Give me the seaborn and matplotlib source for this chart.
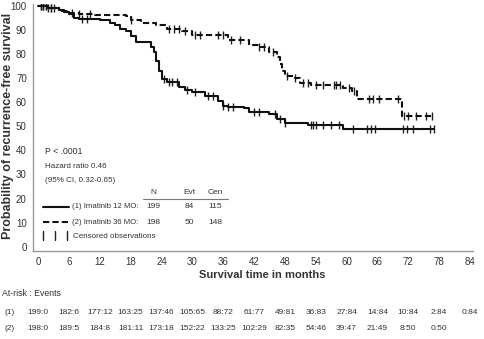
import numpy as np
import pandas as pd
import matplotlib
matplotlib.use("Agg")
import matplotlib.pyplot as plt
import matplotlib.transforms as mtransforms
import seaborn as sns

# ---------------- data ----------------
# Arm (1) Imatinib 12 MO: step curve (event times, survival %)
t12 = [0, 2, 4, 5, 6, 7, 8, 10, 12, 14, 15, 16, 17, 18, 19, 22, 22.5, 23, 23.5, 24, 25,
       27.5, 28.5, 30, 32.5, 35, 36, 37, 40, 41, 45, 46.5, 48, 52.5, 59.4, 77]
s12 = [100, 99, 98.5, 97.5, 96.5, 95, 94.6, 94.4, 94, 93, 92, 90.5, 89.5, 87.5, 85.2, 83, 80.7,
       77, 73, 69.5, 68.4, 66.4, 65, 64.3, 62.7, 60.5, 58.6, 58.2, 57.5, 56, 55, 53, 51.6, 50.4,
       48.8, 48.8]
c12 = [0.5, 1, 1.5, 2, 2.5, 8.5, 9.5, 24.5, 25.5, 26, 27, 29, 30.5, 33, 34, 36, 37, 38, 42, 43,
       46, 47, 48, 53, 53.5, 54, 55.5, 57, 58.5, 61.3, 64, 64.8, 65.5, 71, 71.7, 73, 76.3, 77]

# Arm (2) Imatinib 36 MO
t36 = [0, 2, 4, 6, 8, 11, 17, 18, 20, 23, 25, 28, 30, 37, 41, 43, 45, 46.5, 47, 47.5, 48, 50,
       51, 53, 59.4, 61, 62, 70.8, 76.7]
s36 = [100, 99, 98, 97, 96.5, 96.2, 95.8, 94, 93, 92, 90.5, 89.5, 88, 86, 84, 83, 81, 79, 76, 73,
       71, 70, 68, 67, 66, 64.5, 61.5, 54.5, 54.5]
c36 = [0.5, 1, 1.5, 2.5, 3, 6.5, 8, 10, 18, 25.5, 26.5, 27.5, 28.5, 30.5, 31.5, 35, 36, 37.5,
       39.2, 43, 44, 45.7, 48.5, 50, 51.5, 52.5, 54, 55.5, 57.5, 58, 58.7, 60.5, 61.5, 64.4,
       65.2, 66.3, 70, 71.2, 72, 73.5, 75.5, 76.7]

yticks = list(range(0, 101, 10))
xticks = list(range(0, 85, 6))

risk1 = ["199:0", "182:6", "177:12", "163:25", "137:46", "105:65", "88:72", "61:77", "49:81",
         "36:83", "27:84", "14:84", "10:84", "2:84", "0:84"]
risk2 = ["198:0", "189:5", "184:8", "181:11", "173:18", "152:22", "133:25", "102:29", "82:35",
         "54:46", "39:47", "21:49", "8:50", "0:50"]

legend_rows = [("(1) Imatinib 12 MO:", "199", "84", "115"),
               ("(2) Imatinib 36 MO:", "198", "50", "148")]

# ---------------- style ----------------
sns.set_theme(style="white")
plt.rcParams["font.family"] = ["Liberation Sans Narrow", "Liberation Sans", "DejaVu Sans"]
TXT = "#333333"

W, H = 485, 339
fig = plt.figure(figsize=(W / 100, H / 100), dpi=100)
x0px, x1px = 33, 473
ytop, ybot = 3.6, 250.8
ax = fig.add_axes([x0px / W, 1 - ybot / H, (x1px - x0px) / W, (ybot - ytop) / H])

df = pd.concat([
    pd.DataFrame({"t": t12, "s": s12, "arm": "12"}),
    pd.DataFrame({"t": t36, "s": s36, "arm": "36"}),
])
sns.lineplot(data=df[df.arm == "12"], x="t", y="s", ax=ax, color="#111111", lw=1.5,
             drawstyle="steps-post", estimator=None, sort=False)
sns.lineplot(data=df[df.arm == "36"], x="t", y="s", ax=ax, color="#111111", lw=1.5,
             drawstyle="steps-post", estimator=None, sort=False, dashes=False,
             linestyle=(0, (3, 1.5)))


def step_at(ts, ss, c):
    ts = np.asarray(ts); ss = np.asarray(ss)
    idx = np.searchsorted(ts, c, side="right") - 1
    return ss[np.clip(idx, 0, len(ss) - 1)]


for tt, ss, cc in [(t12, s12, c12), (t36, s36, c36)]:
    cdf = pd.DataFrame({"t": cc, "s": step_at(tt, ss, np.asarray(cc))})
    sns.scatterplot(data=cdf, x="t", y="s", ax=ax, marker="|", s=40, color="#222222",
                    linewidth=1.0, legend=False)

ax.set_xlim(-1, 84.6)
ax.set_ylim(-1.7, 101)
ax.set_xticks(xticks)
ax.set_yticks(yticks)
ax.tick_params(axis="both", which="both", length=2.5, width=0.8, colors="#777777",
               labelsize=7, labelcolor=TXT, pad=2)
for sp in ["top", "right"]:
    ax.spines[sp].set_visible(False)
for sp in ["left", "bottom"]:
    ax.spines[sp].set_color("#999999")
    ax.spines[sp].set_linewidth(1.0)
ax.set_xlabel("")
ax.set_ylabel("")

# axis titles
fig.text(8 / W, 1 - 126 / H, "Probability of recurrence-free survival", rotation=90,
         ha="center", va="center", fontsize=9, fontweight="bold",
         family=["Liberation Sans", "DejaVu Sans"], color=TXT)
fig.text(262 / W, 1 - 275 / H, "Survival time in months", ha="center", va="center",
         fontsize=8, fontweight="bold", family=["Liberation Sans", "DejaVu Sans"], color=TXT)

# annotations (pixel positions)
def ftext(xp, yp, s, **kw):
    kw.setdefault("fontsize", 6)
    kw.setdefault("color", TXT)
    fig.text(xp / W, 1 - yp / H, s, va="center", **kw)

ftext(45, 152, "P < .0001", fontsize=6.3)
ftext(45, 167, "Hazard ratio 0.46", fontsize=5.8)
ftext(45, 181, "(95% CI, 0.32-0.65)", fontsize=5.8)
ftext(153, 192, "N", ha="center")
ftext(189, 192, "Evt", ha="center")
ftext(215, 192, "Cen", ha="center")
fig.add_artist(plt.Line2D([143 / W, 228 / W], [1 - 198.5 / H] * 2, color="#777777", lw=0.8))

for i, (lab, n, e, c) in enumerate(legend_rows):
    yp = 207 + 15 * i
    ls = "-" if i == 0 else (0, (3, 1.5))
    fig.add_artist(plt.Line2D([43 / W, 69 / W], [1 - yp / H] * 2, color="#111111", lw=1.5,
                              linestyle=ls))
    ftext(72, yp, lab, fontsize=5.6)
    ftext(153, yp, n, ha="center")
    ftext(189, yp, e, ha="center")
    ftext(215, yp, c, ha="center")

for xp in [43, 55, 67]:
    fig.add_artist(plt.Line2D([xp / W] * 2, [1 - 231 / H, 1 - 240 / H], color="#222222", lw=1.0))
ftext(73, 236, "Censored observations", fontsize=5.8)

# at-risk table
ftext(2, 293, "At-risk : Events", fontsize=6.3)
trans = mtransforms.blended_transform_factory(ax.transData, fig.transFigure)
for yp, row, lab in [(313, risk1, "(1)"), (328, risk2, "(2)")]:
    ftext(5, yp, lab, fontsize=6)
    for xv, s in zip(xticks, row):
        fig.text(xv, 1 - yp / H, s, transform=trans, ha="center", va="center",
                 fontsize=6, color=TXT)

fig.savefig("out.png", dpi=100, facecolor="white")
